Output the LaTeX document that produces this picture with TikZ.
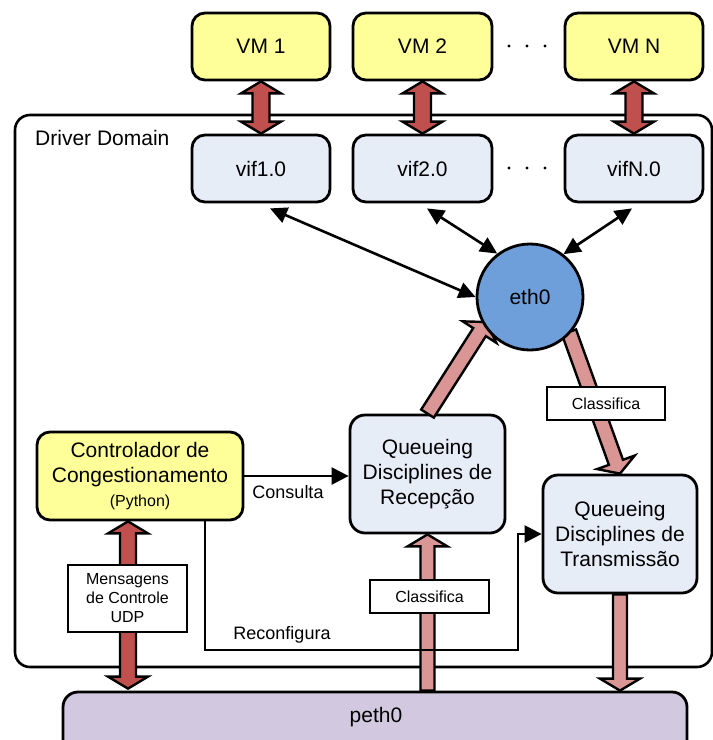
\documentclass[tikz,border=0pt]{standalone}
\usepackage{fontspec}
\setmainfont{Liberation Sans}
\usetikzlibrary{calc,arrows.meta}

\definecolor{vmyellow}{HTML}{FFFF99}
\definecolor{vifblue}{HTML}{E7EDF7}
\definecolor{ethblue}{HTML}{6E9FDB}
\definecolor{darkred}{HTML}{C0504D}
\definecolor{lightred}{HTML}{D99694}
\definecolor{pethviolet}{HTML}{D2C9E0}

\tikzset{
  box/.style={draw, line width=2.8pt, rounded corners=13pt, align=center,
    inner sep=0pt, font=\fontsize{21}{25}\selectfont},
  vmbox/.style={box, fill=vmyellow, minimum width=138pt, minimum height=67pt},
  vifbox/.style={box, fill=vifblue, minimum width=138pt, minimum height=67pt},
  qbox/.style={box, fill=vifblue, rounded corners=15pt, minimum width=155pt, minimum height=118pt},
  tagbox/.style={draw, line width=1.2pt, fill=white, align=center, inner sep=0pt,
    font=\fontsize{16}{19}\selectfont, minimum width=119pt},
  linklabel/.style={inner sep=0pt, font=\fontsize{18}{21}\selectfont},
  linkarrow/.style={line width=2.5pt, -{Triangle[length=17pt,width=17pt]}},
  biarrow/.style={line width=2.6pt, {Triangle[length=17pt,width=16pt]}-{Triangle[length=17pt,width=16pt]}},
  fatline/.style={draw=black, line width=2.4pt, line join=miter},
}

% filled block arrow with one head: #1 fill, #2 half shaft width, #3 start, #4 tip
\newcommand{\fatarrow}[4]{%
  \coordinate (fatQ) at ($(#4)!12pt!(#3)$);
  \draw[fatline, fill=#1]
    ($(#3)!#2!90:(#4)$) -- ($(fatQ)!#2!90:(#4)$) -- ($(fatQ)!20pt!90:(#4)$) -- (#4)
    -- ($(fatQ)!20pt!-90:(#4)$) -- ($(fatQ)!#2!-90:(#4)$) -- ($(#3)!#2!-90:(#4)$) -- cycle;
}
% filled block arrow with heads at both ends
\newcommand{\fatdarrow}[4]{%
  \coordinate (fatP) at ($(#3)!12pt!(#4)$);
  \coordinate (fatQ) at ($(#4)!12pt!(#3)$);
  \draw[fatline, fill=#1]
    (#3) -- ($(fatP)!20pt!90:(#4)$) -- ($(fatP)!#2!90:(#4)$) -- ($(fatQ)!#2!90:(#4)$)
    -- ($(fatQ)!20pt!90:(#4)$) -- (#4) -- ($(fatQ)!20pt!-90:(#4)$) -- ($(fatQ)!#2!-90:(#4)$)
    -- ($(fatP)!#2!-90:(#4)$) -- ($(fatP)!20pt!-90:(#4)$) -- cycle;
}

\begin{document}
\begin{tikzpicture}[x=1pt, y=-1pt]
\useasboundingbox (0,0) rectangle (713,740);

% driver domain container
\node[draw, line width=2.6pt, rounded corners=15pt, minimum width=697pt, minimum height=552pt,
  inner sep=0pt] (domain) at (363.5,391) {};
\node[anchor=west, inner sep=0pt, font=\fontsize{21}{25}\selectfont] (domainlabel) at (35,138) {Driver Domain};

% physical interface (box runs past the bottom edge)
\node[draw, line width=2.8pt, rounded corners=15pt, fill=pethviolet, minimum width=624pt,
  minimum height=90pt, inner sep=0pt] (peth) at (375,737) {};
\node[inner sep=0pt, font=\fontsize{21}{25}\selectfont] (pethlabel) at (376,717) {peth0};

% virtual machines and their interfaces
\node[vmbox] (vm1) at (261,46.5) {VM 1};
\node[vmbox, minimum width=139pt] (vm2) at (422.5,46.5) {VM 2};
\node[vmbox] (vmN) at (634,46.5) {VM N};
\node[vifbox] (vif1) at (261,168.5) {vif1.0};
\node[vifbox, minimum width=139pt] (vif2) at (422.5,168.5) {vif2.0};
\node[vifbox] (vifN) at (634,168.5) {vifN.0};

\foreach \dx in {509,527,545} {
  \fill (\dx,46) circle (1.6pt);
  \fill (\dx,168) circle (1.6pt);
}

\fatdarrow{darkred}{8.5pt}{vm1.south}{vif1.north}
\fatdarrow{darkred}{8.5pt}{vm2.south}{vif2.north}
\fatdarrow{darkred}{8.5pt}{vmN.south}{vifN.north}

% queueing disciplines and controller
\node[qbox] (rec) at (427.5,474) {Queueing\\Disciplines de\\Recepção};
\node[qbox, minimum width=154pt] (trans) at (620,534) {Queueing\\Disciplines de\\Transmissão};
\node[box, fill=vmyellow, minimum width=206pt, minimum height=88pt] (ctrl) at (140,476)
  {Controlador de\\Congestionamento\\[-1pt]{\fontsize{16}{19}\selectfont (Python)}};

% packet flow through eth0 (drawn beneath the circle)
\coordinate (ethin) at (486,322);
\fatarrow{lightred}{7.5pt}{rec.north}{ethin}
\coordinate (ethout) at (569,332);
\fatarrow{lightred}{7.5pt}{ethout}{trans.north}

\node[draw, circle, line width=2.8pt, fill=ethblue, minimum size=106pt, inner sep=0pt,
  font=\fontsize{21}{25}\selectfont] (eth0) at (530,297) {eth0};

\draw[biarrow] ($(vif1.south)+(9,5)$) -- (eth0.west);
\draw[biarrow] ($(vif2.south)+(4.5,5)$) -- (eth0.127);
\draw[biarrow] ($(vifN.south)+(-2,5)$) -- (eth0.52);

% traffic between peth0 and the queues
\fatarrow{lightred}{7pt}{rec.south |- peth.north}{rec.south}
\fatarrow{lightred}{7pt}{trans.south}{trans.south |- peth.north}

% control messages
\coordinate (udptop) at ($(ctrl.south)+(-12,0)$);
\coordinate (udpbot) at ($(udptop |- peth.north)+(0,-2)$);
\fatdarrow{darkred}{8pt}{udptop}{udpbot}

% controller links
\draw[linkarrow] (ctrl.east) -- (ctrl.east -| rec.west);
\node[linklabel] (consulta) at (288,492) {Consulta};
\coordinate (rcstart) at ($(ctrl.south)+(65,0)$);
\coordinate (rcbend) at (518,650);
\draw[linkarrow] (rcstart) |- (rcbend) |- (trans.west);
\node[linklabel] (reconf) at (282,635) {Reconfigura};

% labels on the flows
\node[tagbox, minimum height=33pt, minimum width=118pt] (classtx) at (606,403.5) {Classifica};
\node[tagbox, minimum height=33pt] (classrx) at (429.5,596.5) {Classifica};
\node[tagbox, minimum height=67pt] (udp) at (127.5,598.5) {Mensagens\\de Controle\\UDP};
\end{tikzpicture}
\end{document}
